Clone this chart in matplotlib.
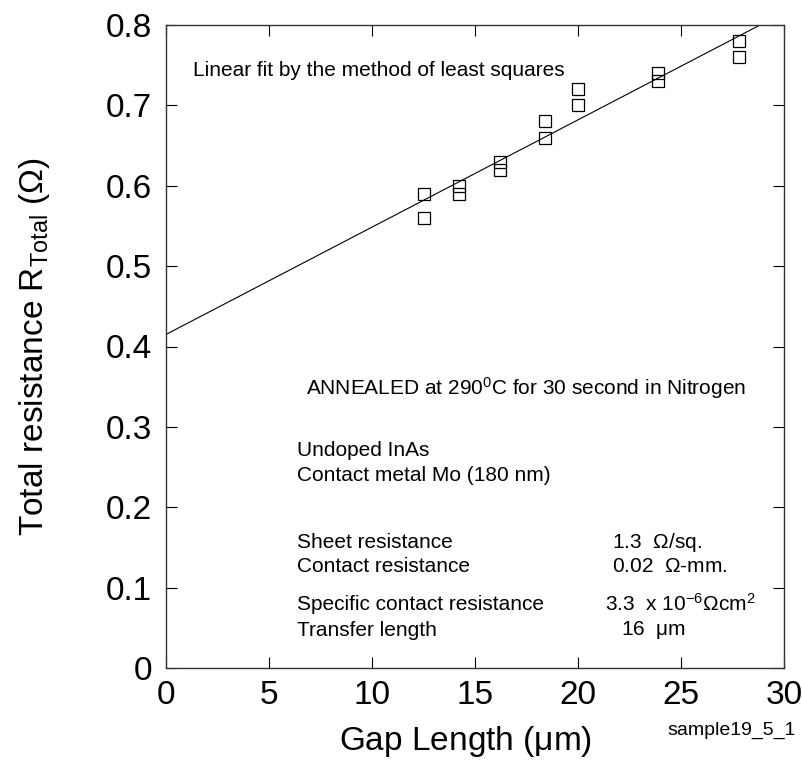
import matplotlib
matplotlib.use("Agg")
import matplotlib.pyplot as plt
import numpy as np

plt.rcParams['font.family'] = ['Liberation Sans', 'DejaVu Sans']
plt.rcParams['mathtext.fontset'] = 'custom'
plt.rcParams['mathtext.rm'] = 'Liberation Sans'
plt.rcParams['mathtext.it'] = 'Liberation Sans'
plt.rcParams['mathtext.default'] = 'regular'

gap = [12.5, 12.5, 14.2, 14.2, 16.2, 16.2, 18.4, 18.4, 20.0, 20.0, 23.9, 23.9, 27.8, 27.8]
r_total = [0.59, 0.56, 0.60, 0.59, 0.63, 0.62, 0.68, 0.66, 0.72, 0.70, 0.74, 0.73, 0.78, 0.76]
fit_intercept = 0.415
fit_slope = 0.01335
fit_x = [0, 30]

xticks = [0, 5, 10, 15, 20, 25, 30]
yticks = [0, 0.1, 0.2, 0.3, 0.4, 0.5, 0.6, 0.7, 0.8]
ytick_labels = ['0', '0.1', '0.2', '0.3', '0.4', '0.5', '0.6', '0.7', '0.8']

W, H = 802, 761
fig = plt.figure(figsize=(W/100, H/100), dpi=100)
x0, x1, y0, y1 = 166, 784, 668, 25
ax = fig.add_axes([x0/W, 1-y0/H, (x1-x0)/W, (y0-y1)/H])

fx = np.array(fit_x)
ax.plot(fx, fit_intercept + fit_slope*fx, color='black', lw=0.8)
ax.plot(gap, r_total, linestyle='none', marker='s', markersize=8.5,
        markerfacecolor='none', markeredgecolor='black', markeredgewidth=0.9)

ax.set_xlim(0, 30)
ax.set_ylim(0, 0.8)
ax.set_xticks(xticks)
ax.set_yticks(yticks)
ax.set_yticklabels(ytick_labels)
ax.tick_params(direction='in', length=8, width=0.8, labelsize=24, top=True, right=True)
ax.tick_params(axis='y', pad=10)
ax.tick_params(axis='x', pad=9)
for s in ax.spines.values():
    s.set_linewidth(1.0)
    s.set_color('#333333')

ax.set_xlabel('Gap Length ($\\mu$m)', fontsize=24)
ax.set_ylabel('Total resistance R$_{Total}$ ($\\Omega$)', fontsize=24)
ax.xaxis.set_label_coords((465-x0)/(x1-x0), (y0-724)/(y0-y1))
ax.yaxis.set_label_coords((52-x0)/(x1-x0), 0.5)

def t(xp, yp, s, **kw):
    fig.text(xp/W, 1-yp/H, s, fontsize=15, va='center', ha='left', **kw)

t(193, 70, 'Linear fit by the method of least squares')
t(306, 388, 'ANNEALED at 290$^{0}$C for 30 second in Nitrogen')
t(297, 451, 'Undoped InAs')
t(297, 476, 'Contact metal Mo (180 nm)')
t(297, 542, 'Sheet resistance')
t(297, 567, 'Contact resistance')
t(297, 604, 'Specific contact resistance')
t(297, 630, 'Transfer length')
t(612, 542, '1.3  $\\Omega$/sq.')
t(612, 567, '0.02  $\\Omega$-mm.')
t(605, 604, '3.3  x 10$^{-6}$$\\Omega$cm$^{2}$')
t(621, 630, '16  $\\mu$m')
fig.text(796/W, 1-735/H, 'sample19_5_1', fontsize=14, va='baseline', ha='right')

fig.savefig('out.png', dpi=100)
